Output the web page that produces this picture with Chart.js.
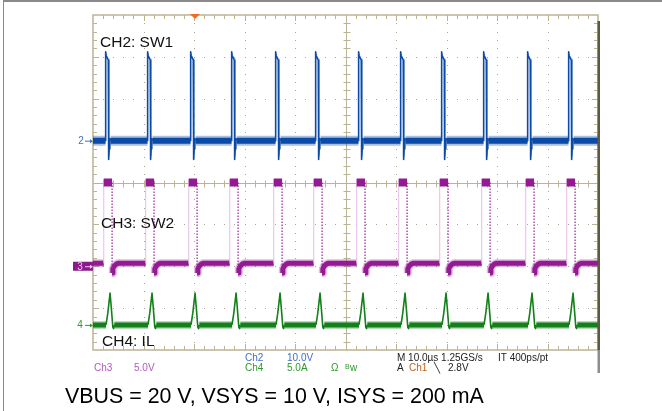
<!DOCTYPE html>
<html><head><meta charset="utf-8">
<script src="https://cdn.jsdelivr.net/npm/chart.js@4"></script>
<style>html,body{margin:0;padding:0;background:#fff;}canvas{display:block}</style>
</head><body>
<canvas id="c" width="662" height="411"></canvas>
<script>
// ---------- data ----------
const timePerDivUs = 10;                 // M 10.0 µs / div, 10 divisions
const channelLabels = ['CH2: SW1', 'CH3: SW2', 'CH4: IL'];
const channelPerDiv = [10, 5, 5];        // Ch2 10.0 V/div, Ch3 5.0 V/div, Ch4 5.0 A/div
const channelZeroDiv = [1, -2, -3.4];    // ground markers 2, 3, 4 (divisions from centre)
const triggerTimeUs = 20.2;

// SW1 rising edges (µs)
const sw1RiseUs = [2.48, 10.79, 19.31, 27.43, 36.14, 44.06, 52.57, 60.89, 69.01, 77.33, 86.04, 94.16];

// SW1 pulse shape: µs after rising edge, volts
const sw1PulseT = [0, 0.03, 0.12, 0.55, 0.62, 0.72, 0.85, 1.0];
const sw1PulseV = [0, 21.2, 20.4, 19.2, -4.5, -2.0, 0.5, 0];
const sw1BaseV = 0;
const sw1GhostT = [0.66, 0.68];
const sw1GhostV = [19.5, -3.5];

// SW2: high state and recovery after the edge
const sw2BaseV = 0.35;
const sw2HighV = 10;
const sw2HighT = [-0.35, 1.3];
const sw2RecoverT = [1.3, 1.45, 1.7, 2.1, 2.5];
const sw2RecoverV = [-0.8, -0.3, 0.0, 0.25, 0.35];

// IL triangular current pulse: µs after SW1 edge, amps
const ilPulseT = [0.1, 0.45, 0.6, 0.9, 1.15, 1.45, 1.6, 1.75];
const ilPulseA = [0, 1.4, 2.2, 3.8, 2.0, -0.3, -0.45, 0];
const ilBaseA = 0;

// ---------- build datasets ----------
const tEnd = 10 * timePerDivUs;
function gap(t) { return { x: t, y: null }; }

const sw1Band = [], sw1Edge = [], sw1Ghost = [];
let s = 0;
sw1RiseUs.forEach(t0 => {
  sw1Band.push({ x: s, y: sw1BaseV }, { x: t0, y: sw1BaseV }, gap(t0));
  sw1PulseT.forEach((dt, i) => sw1Edge.push({ x: t0 + dt, y: sw1PulseV[i] }));
  sw1Edge.push(gap(t0 + 1.05));
  sw1GhostT.forEach((dt, i) => sw1Ghost.push({ x: t0 + dt, y: sw1GhostV[i] }));
  sw1Ghost.push(gap(t0 + 0.7));
  s = t0 + sw1PulseT[sw1PulseT.length - 1];
});
sw1Band.push({ x: s, y: sw1BaseV }, { x: tEnd, y: sw1BaseV });

const sw2Band = [], sw2Top = [], sw2Pale = [], sw2Dot = [];
s = 0;
sw1RiseUs.forEach(t0 => {
  const a = t0 + sw2HighT[0], b = t0 + sw2HighT[1];
  sw2Band.push({ x: s, y: sw2BaseV }, { x: a, y: sw2BaseV }, gap(a));
  sw2RecoverT.forEach((dt, i) => sw2Band.push({ x: t0 + dt, y: sw2RecoverV[i] }));
  sw2Top.push({ x: a, y: sw2HighV }, { x: b, y: sw2HighV }, gap(b));
  sw2Pale.push({ x: a, y: sw2BaseV }, { x: a, y: sw2HighV + 0.4 }, gap(a));
  sw2Dot.push({ x: b, y: sw2HighV }, { x: b, y: sw2RecoverV[0] }, gap(b));
  s = t0 + sw2RecoverT[sw2RecoverT.length - 1];
});
sw2Band.push({ x: s, y: sw2BaseV }, { x: tEnd, y: sw2BaseV });

const ilBand = [], ilEdge = [];
s = 0;
sw1RiseUs.forEach(t0 => {
  ilBand.push({ x: s, y: ilBaseA }, { x: t0 + ilPulseT[0], y: ilBaseA }, gap(t0 + ilPulseT[0]));
  ilPulseT.forEach((dt, i) => ilEdge.push({ x: t0 + dt, y: ilPulseA[i] }));
  ilEdge.push(gap(t0 + 1.8));
  s = t0 + ilPulseT[ilPulseT.length - 1];
});
ilBand.push({ x: s, y: ilBaseA }, { x: tEnd, y: ilBaseA });

const BLUE = '#0b4aa6', PURPLE = '#931a93', GREEN = '#13801b';
function ds(data, axis, color, width, extra) {
  return Object.assign({ data, yAxisID: axis, borderColor: color, borderWidth: width,
    pointRadius: 0, tension: 0, spanGaps: false, fill: false,
    borderCapStyle: 'butt', borderJoinStyle: 'round' }, extra || {});
}
const datasets = [
  ds(sw1Edge, 'y2', BLUE, 1.6),
  ds(sw1Ghost, 'y2', '#7ea3d8', 1.2),
  ds(sw1Band, 'y2', BLUE, 6),
  ds(sw1Band, 'y2', 'rgba(11,74,166,0.35)', 10),
  ds(sw2Top, 'y3', PURPLE, 8),
  ds(sw2Dot, 'y3', '#9c1f98', 1.2, { borderDash: [1.5, 1.5] }),
  ds(sw2Pale, 'y3', '#e6bce8', 1),
  ds(sw2Band, 'y3', PURPLE, 5),
  ds(sw2Band, 'y3', 'rgba(147,26,147,0.3)', 8),
  ds(ilEdge, 'y4', GREEN, 1.6),
  ds(ilBand, 'y4', GREEN, 5),
  ds(ilBand, 'y4', 'rgba(19,128,27,0.3)', 8)
];

function chScale(i) {
  return { type: 'linear', display: false,
    min: (-4 - channelZeroDiv[i]) * channelPerDiv[i],
    max: (4 - channelZeroDiv[i]) * channelPerDiv[i] };
}

const F = "'Liberation Sans', Arial, sans-serif";
const scopePlugin = {
  id: 'scope',
  beforeDatasetsDraw(chart) {
    const { ctx, chartArea: a } = chart;
    const px = v => chart.scales.x.getPixelForValue(v);
    const py = v => chart.scales.y.getPixelForValue(v);
    const L = a.left, R = a.right, T = a.top, B = a.bottom;
    ctx.save();
    ctx.fillStyle = '#8a8a8a';
    ctx.fillRect(3, 0, 659, 2);
    ctx.fillRect(3, 0, 1, 411);
    // dotted grid
    ctx.fillStyle = '#a9a58e';
    for (let d = 1; d < 10; d++) {
      if (d === 5) continue;
      const gx = Math.round(px(d * timePerDivUs));
      for (let m = 1; m < 40; m++) ctx.fillRect(gx, Math.round(py(-4 + m * 0.2)), 1, 1);
    }
    for (let d = -3; d <= 3; d++) {
      if (d === 0) continue;
      const gy = Math.round(py(d));
      for (let m = 1; m < 50; m++) ctx.fillRect(Math.round(px(m * timePerDivUs / 5)), gy, 1, 1);
    }
    // frame, centre cross and ticks
    ctx.strokeStyle = '#bab495';
    ctx.lineWidth = 1.5;
    ctx.strokeRect(L, T, R - L, B - T);
    ctx.lineWidth = 1;
    ctx.beginPath();
    const cx = Math.round(px(tEnd / 2)) + 0.5, cy = Math.round(py(0)) + 0.5;
    ctx.moveTo(L, cy); ctx.lineTo(R, cy);
    ctx.moveTo(cx, T); ctx.lineTo(cx, B);
    for (let m = 1; m < 50; m++) {
      const tx = Math.round(px(m * timePerDivUs / 5)) + 0.5;
      const len = m % 5 === 0 ? 6 : 4;
      ctx.moveTo(tx, T); ctx.lineTo(tx, T + len);
      ctx.moveTo(tx, B); ctx.lineTo(tx, B - len);
      ctx.moveTo(tx, cy - 3); ctx.lineTo(tx, cy + 4);
    }
    for (let m = 1; m < 40; m++) {
      const ty = Math.round(py(-4 + m * 0.2)) + 0.5;
      const len = m % 5 === 0 ? 6 : 4;
      ctx.moveTo(L, ty); ctx.lineTo(L + len, ty);
      ctx.moveTo(R, ty); ctx.lineTo(R - len, ty);
      ctx.moveTo(cx - 3, ty); ctx.lineTo(cx + 4, ty);
    }
    ctx.stroke();
    ctx.restore();
  },
  afterDatasetsDraw(chart) {
    const { ctx, chartArea: a } = chart;
    const px = v => chart.scales.x.getPixelForValue(v);
    ctx.save();
    // right-hand shadow of the scope screen
    ctx.fillStyle = '#5b5a40';
    ctx.fillRect(a.right - 0.5, a.top + 6, 2.5, a.bottom - a.top - 6);
    ctx.fillStyle = '#8d8d8d';
    ctx.fillRect(a.right - 0.5, a.bottom, 2.5, 23);
    // trigger marker
    const tx = px(triggerTimeUs);
    ctx.fillStyle = '#f26b21';
    ctx.beginPath();
    ctx.moveTo(tx - 5, a.top - 1); ctx.lineTo(tx + 5, a.top - 1); ctx.lineTo(tx, a.top + 4);
    ctx.closePath(); ctx.fill();
    // ground markers
    const y2 = chart.scales.y2.getPixelForValue(0);
    const y3 = chart.scales.y3.getPixelForValue(0);
    const y4 = chart.scales.y4.getPixelForValue(0);
    ctx.font = '10px ' + F;
    ctx.textBaseline = 'middle';
    ctx.textAlign = 'center';
    function arrow(y, col) {
      ctx.strokeStyle = col; ctx.fillStyle = col; ctx.lineWidth = 1;
      ctx.beginPath(); ctx.moveTo(a.left - 8, y + 0.5); ctx.lineTo(a.left - 2, y + 0.5); ctx.stroke();
      ctx.beginPath(); ctx.moveTo(a.left, y + 0.5); ctx.lineTo(a.left - 3, y - 1.5); ctx.lineTo(a.left - 3, y + 2.5); ctx.closePath(); ctx.fill();
    }
    ctx.fillStyle = '#3d70c6'; ctx.fillText('2', a.left - 12, y2 + 0.5); arrow(y2, '#3d70c6');
    ctx.fillStyle = '#8b1a8b'; ctx.fillRect(a.left - 20, y3 - 4.5, 20, 9);
    ctx.fillStyle = '#f0c8f0'; ctx.fillText('3', a.left - 13, y3 + 0.5); arrow(y3, '#f0d0f0');
    ctx.fillStyle = '#2e9a2e'; ctx.fillText('4', a.left - 13, y4 + 0.5); arrow(y4, '#2e9a2e');
    ctx.restore();
  },
  afterDraw(chart) {
    const { ctx, chartArea: a } = chart;
    ctx.save();
    ctx.textBaseline = 'middle';
    ctx.textAlign = 'left';
    ctx.fillStyle = '#111';
    ctx.font = '15.5px ' + F;
    const labelPos = [[100, 43], [101, 224], [102, 342]];
    channelLabels.forEach((t, i) => ctx.fillText(t, labelPos[i][0], labelPos[i][1]));
    // scope status line
    ctx.font = '10px ' + F;
    const r1 = a.bottom + 8, r2 = a.bottom + 18.5;
    ctx.fillStyle = '#b455c4';
    ctx.fillText('Ch3', 94, r2); ctx.fillText(channelPerDiv[1].toFixed(1) + 'V', 134, r2);
    ctx.fillStyle = '#3b6fd0';
    ctx.fillText('Ch2', 245, r1); ctx.fillText(channelPerDiv[0].toFixed(1) + 'V', 287, r1);
    ctx.fillStyle = '#2c9a2c';
    ctx.fillText('Ch4', 245, r2); ctx.fillText(channelPerDiv[2].toFixed(1) + 'A', 287, r2);
    ctx.fillText('\u03a9', 331, r2);
    ctx.font = '7px ' + F; ctx.fillText('B', 345, r2 - 1.5);
    ctx.font = '10px ' + F; ctx.fillText('w', 350, r2);
    ctx.fillStyle = '#222';
    ctx.fillText('M ' + timePerDivUs.toFixed(1) + '\u00b5s 1.25GS/s', 397, r1);
    ctx.fillText('IT 400ps/pt', 498, r1);
    ctx.fillText('A', 397, r2);
    ctx.fillStyle = '#c0601a'; ctx.fillText('Ch1', 409, r2);
    ctx.fillStyle = '#222'; ctx.fillText('\u2572', 434, r2); ctx.fillText('2.8V', 448, r2);
    // caption
    ctx.fillStyle = '#000';
    ctx.font = '21.4px ' + F;
    ctx.fillText('VBUS = 20 V, VSYS = 10 V, ISYS = 200 mA', 65, 397);
    ctx.restore();
  }
};

new Chart(document.getElementById('c'), {
  type: 'line',
  data: { datasets },
  options: {
    responsive: false, animation: false, devicePixelRatio: 1,
    layout: { padding: { left: 93, right: 64, top: 15, bottom: 61 } },
    plugins: { legend: { display: false }, tooltip: { enabled: false }, title: { display: false } },
    scales: {
      x: { type: 'linear', display: false, min: 0, max: tEnd },
      y: { type: 'linear', display: false, min: -4, max: 4 },
      y2: chScale(0), y3: chScale(1), y4: chScale(2)
    }
  },
  plugins: [scopePlugin]
});
</script>
</body></html>
